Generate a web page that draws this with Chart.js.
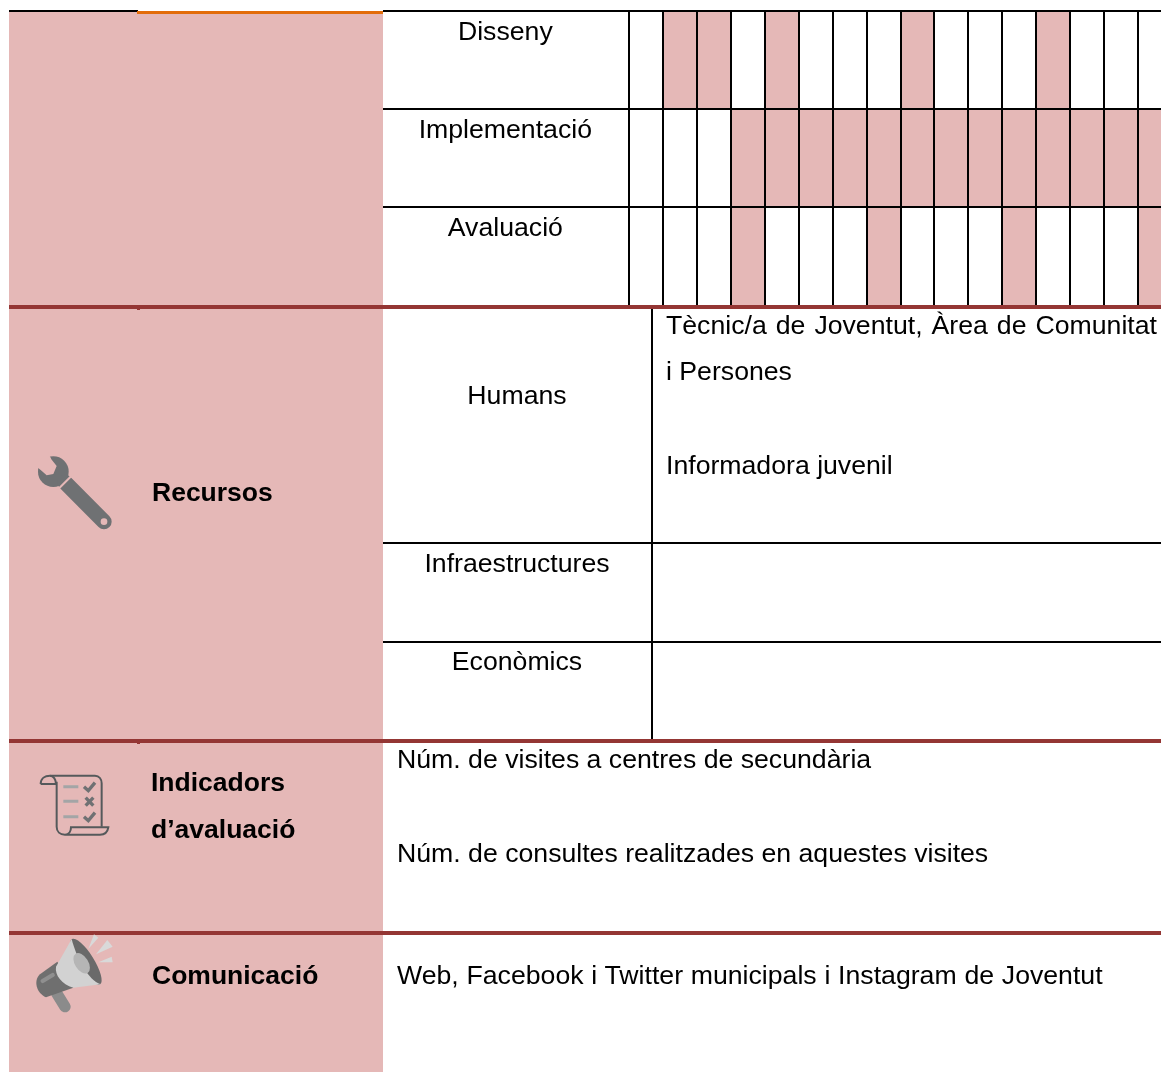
<!DOCTYPE html>
<html lang="ca">
<head>
<meta charset="utf-8">
<title>Recursos</title>
<script src="https://cdn.jsdelivr.net/npm/chart.js@4"></script>
<style>
html, body { margin: 0; padding: 0; background: #fff; }
body { position: relative; width: 1161px; height: 1072px; overflow: hidden; font-family: "Liberation Sans", Arial, sans-serif; font-size: 26.67px; color: #000; }
.box { position: absolute; }
.t { position: absolute; white-space: nowrap; line-height: 30px; transform: translateY(-15px); }
.b { font-weight: bold; font-size: 26.5px; }
.c { transform: translate(-50%, -15px); }
#gantt { position: absolute; left: 383px; top: 0; width: 778px; height: 310px; overflow: hidden; }
#icons { position: absolute; left: 0; top: 0; }
</style>
</head>
<body>
<div class="box" style="left:9px;top:12px;width:374px;height:1060px;background:#e5b8b7"></div>
<div id="gantt"><canvas id="ganttChart" width="789" height="310"></canvas></div>

<!-- lignes du tableau -->
<div class="box" style="left:9px;top:10px;width:129px;height:2px;background:#000"></div>
<div class="box" style="left:137px;top:11px;width:246px;height:3px;background:#e36c0a"></div>
<div class="box" style="left:9px;top:305px;width:1152px;height:4px;background:#943634"></div>
<div class="box" style="left:9px;top:739px;width:1152px;height:4px;background:#943634"></div>
<div class="box" style="left:9px;top:931px;width:1152px;height:4px;background:#943634"></div>
<div class="box" style="left:137px;top:309px;width:3px;height:1px;background:#943634"></div>
<div class="box" style="left:137px;top:743px;width:3px;height:1px;background:#943634"></div>
<div class="box" style="left:651px;top:309px;width:2px;height:430px;background:#000"></div>
<div class="box" style="left:383px;top:542px;width:778px;height:2px;background:#000"></div>
<div class="box" style="left:383px;top:641px;width:778px;height:2px;background:#000"></div>

<!-- icones -->
<svg id="icons" width="1161" height="1072">
  <g transform="translate(20 440) scale(0.3333)">
    <circle cx="100" cy="95" r="46" fill="#6f7173"/>
    <polygon points="44,76 62,90 80,106 100,102 110,78 94,58 84,36" fill="#e5b8b7"/>
    <line x1="135" y1="127" x2="252" y2="245" stroke="#6f7173" stroke-width="46" stroke-linecap="round"/>
    <line x1="112" y1="150" x2="160" y2="102" stroke="#e5b8b7" stroke-width="6"/>
    <circle cx="252" cy="245" r="10" fill="#e5b8b7"/>
  </g>
  <g transform="translate(20 760) scale(0.3333)" fill="none" stroke="#55595b" stroke-width="6">
    <path d="M62 72 C62 55 75 47 90 47 H225 C238 47 245 58 245 70 V200"/>
    <path d="M62 72 H108 C108 58 100 47 90 47"/>
    <path d="M110 65 V200 C110 215 120 224 135 224 H240 C255 224 263 215 265 202 H153 C153 212 148 224 135 224"/>
    <path d="M130 80 H175 M130 124 H175 M130 170 H175" stroke="#a3a5a6" stroke-width="9"/>
    <path d="M192 80 L205 92 L225 68 M192 170 L205 182 L225 158" stroke="#6f7173" stroke-width="10"/>
    <path d="M197 113 L220 137 M220 113 L197 137" stroke="#6f7173" stroke-width="10"/>
  </g>
  <g transform="translate(20 925) scale(0.3333)">
    <line x1="110" y1="205" x2="135" y2="245" stroke="#8b8b8b" stroke-width="34" stroke-linecap="round"/>
    <path d="M112 110 L60 148 C40 165 48 205 78 217 L160 188 Z" fill="#6f6f6f"/>
    <line x1="68" y1="168" x2="98" y2="150" stroke="#8f8f8f" stroke-width="13" stroke-linecap="round"/>
    <ellipse cx="198" cy="110" rx="24" ry="80" transform="rotate(-32 198 110)" fill="#6a6a6a"/>
    <path d="M155 42 L108 125 C104 150 125 178 160 188 L242 178 C205 165 170 100 155 42 Z" fill="#d2d2d2"/>
    <ellipse cx="185" cy="115" rx="20" ry="34" transform="rotate(-32 185 115)" fill="#b5b5b5"/>
    <polygon points="222,28 235,38 205,72" fill="#d9d9d9"/>
    <polygon points="262,45 278,65 228,88" fill="#d9d9d9"/>
    <polygon points="275,95 278,112 235,112" fill="#d9d9d9"/>
  </g>
</svg>

<!-- textes -->
<div class="t b" style="left:152px;top:492px">Recursos</div>
<div class="t b" style="left:151px;top:782px">Indicadors</div>
<div class="t b" style="left:151px;top:829px">d’avaluació</div>
<div class="t b" style="left:152px;top:975px">Comunicació</div>
<div class="t c" style="left:517px;top:395px">Humans</div>
<div class="t c" style="left:517px;top:563px">Infraestructures</div>
<div class="t c" style="left:517px;top:661px">Econòmics</div>
<div class="t" style="left:666px;top:325px;width:491px;white-space:normal;text-align:justify;text-align-last:justify">Tècnic/a de Joventut, Àrea de Comunitat</div>
<div class="t" style="left:666px;top:371px">i Persones</div>
<div class="t" style="left:666px;top:465px">Informadora juvenil</div>
<div class="t" style="left:397px;top:759px">Núm. de visites a centres de secundària</div>
<div class="t" style="left:397px;top:853px">Núm. de consultes realitzades en aquestes visites</div>
<div class="t" style="left:397px;top:975px;word-spacing:0.35px">Web, Facebook i Twitter municipals i Instagram de Joventut</div>

<script>
// Données du calendrier : 1 = case remplie, 0 = case vide
const periodes = ['1', '2', '3', '4', '5', '6', '7', '8', '9', '10', '11', '12', '13', '14', '15', '16'];
const fases = ['Disseny', 'Implementació', 'Avaluació'];
const disseny = [0, 1, 1, 0, 1, 0, 0, 0, 1, 0, 0, 0, 1, 0, 0, 0];
const implementacio = [0, 0, 0, 1, 1, 1, 1, 1, 1, 1, 1, 1, 1, 1, 1, 1];
const avaluacio = [0, 0, 0, 1, 0, 0, 0, 1, 0, 0, 0, 1, 0, 0, 0, 1];

// une case remplie devient une barre flottante sur la hauteur de sa ligne
function barres(valeurs, ligne) {
    return valeurs.map(v => (v ? [ligne, ligne + 1] : null));
}

function serie(label, valeurs, ligne) {
    return {
        label: label,
        data: barres(valeurs, ligne),
        backgroundColor: '#e5b8b7',
        borderWidth: 0,
        grouped: false,
        barPercentage: 1,
        categoryPercentage: 1
    };
}

// la dernière ligne est couverte par le filet rouge du tableau
const couleurLigne = ctx => (ctx.tick && ctx.tick.value === fases.length ? 'transparent' : '#000');

new Chart(document.getElementById('ganttChart'), {
    type: 'bar',
    data: {
        labels: periodes,
        datasets: [
            serie(fases[0], disseny, 0),
            serie(fases[1], implementacio, 1),
            serie(fases[2], avaluacio, 2)
        ]
    },
    options: {
        responsive: false,
        animation: false,
        layout: { padding: { top: 11, bottom: 5, left: 0, right: 0 } },
        plugins: { legend: { display: false }, tooltip: { enabled: false } },
        scales: {
            x: {
                offset: true,
                afterFit: s => { s.height = 0; },
                ticks: { display: false },
                border: { display: false },
                grid: { color: '#000', lineWidth: 2, drawTicks: false, z: 1 }
            },
            y: {
                reverse: true,
                min: 0,
                max: 3,
                afterFit: s => { s.width = 246; },
                border: { display: false },
                grid: { color: couleurLigne, tickColor: couleurLigne, lineWidth: 2, tickLength: 246, z: 1 },
                ticks: {
                    stepSize: 1,
                    autoSkip: false,
                    color: '#000',
                    crossAlign: 'center',
                    padding: -209,
                    labelOffset: 22,
                    font: { family: '"Liberation Sans", Arial, sans-serif', size: 26.67 },
                    callback: v => fases[v] || ''
                }
            }
        }
    }
});
</script>
</body>
</html>
